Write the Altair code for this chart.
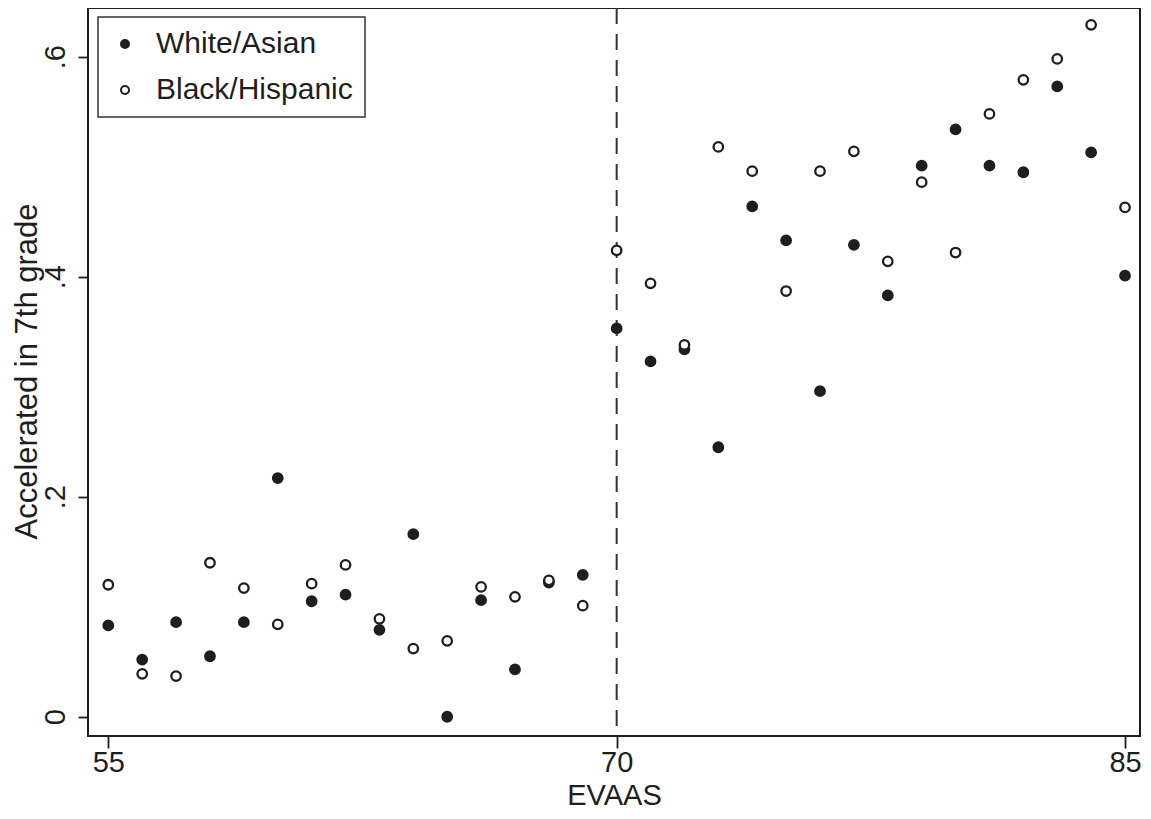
import altair as alt
import pandas as pd

evaas = list(range(55, 86))
white_asian = [0.083, 0.052, 0.086, 0.055, 0.086, 0.217, 0.105, 0.111, 0.079, 0.166,
               0.000, 0.106, 0.043, 0.122, 0.129, 0.353, 0.323, 0.334, 0.245, 0.464,
               0.433, 0.296, 0.429, 0.383, 0.501, 0.534, 0.501, 0.495, 0.573, 0.513,
               0.401]
black_hispanic = [0.120, 0.039, 0.037, 0.140, 0.117, 0.084, 0.121, 0.138, 0.089, 0.062,
                  0.069, 0.118, 0.109, 0.124, 0.101, 0.424, 0.394, 0.338, 0.518, 0.496,
                  0.387, 0.496, 0.514, 0.414, 0.486, 0.422, 0.548, 0.579, 0.598, 0.629,
                  0.463]
groups = ["White/Asian", "Black/Hispanic"]
cutoff = [70]
x_ticks = [55, 70, 85]
y_ticks = [0, 0.2, 0.4, 0.6]

rows = []
for g, vals in zip(groups, [white_asian, black_hispanic]):
    for x, y in zip(evaas, vals):
        rows.append({"EVAAS": x, "rate": y, "group": g})
df = pd.DataFrame(rows)
rule_df = pd.DataFrame({"x": cutoff})

W, H = 1052, 728
FONT = "Liberation Sans"
INK = "#1e1e1e"

xscale = alt.Scale(domain=[54.401, 85.442], nice=False, zero=False)
yscale = alt.Scale(domain=[-0.0175, 0.6443], nice=False, zero=False)

xaxis = alt.Axis(values=x_ticks, format="d", title="EVAAS", grid=False, domain=False,
                 tickSize=12, tickWidth=1.8, tickColor=INK,
                 labelFontSize=29, labelPadding=23, labelBaseline="alphabetic",
                 titleFontSize=29, titleY=68, titleBaseline="alphabetic")
yaxis = alt.Axis(values=y_ticks, title="Accelerated in 7th grade", grid=False, domain=False,
                 tickSize=10, tickWidth=1.8, tickColor=INK,
                 labelExpr="datum.value == 0 ? '0' : replace(format(datum.value, '.1f'), '0.', '.')",
                 labelFontSize=29, labelAngle=270, labelAlign="center",
                 labelBaseline="alphabetic", labelPadding=14,
                 titleFontSize=31, titleAngle=270, titleX=-52, titleY=363,
                 titleAlign="center", titleBaseline="alphabetic")

rule = alt.Chart(rule_df).mark_rule(color="#333333", strokeWidth=2, strokeDash=[16, 10]).encode(
    x=alt.X("x:Q", scale=xscale, axis=xaxis)
)

points = alt.Chart(df).mark_point(filled=True, stroke=INK, strokeWidth=2.3, size=90, opacity=1).encode(
    x=alt.X("EVAAS:Q", scale=xscale, axis=xaxis),
    y=alt.Y("rate:Q", scale=yscale, axis=yaxis),
    fill=alt.Fill("group:N", sort=groups,
                  scale=alt.Scale(domain=groups, range=[INK, "#ffffff"]),
                  legend=alt.Legend(title=None, orient="none", legendX=10, legendY=9,
                                    padding=12, fillColor="white", strokeColor="#333333",
                                    labelOffset=16, rowPadding=16, symbolSize=64,
                                    labelLimit=500,
                                    symbolType="circle", symbolStrokeColor=INK,
                                    symbolStrokeWidth=2)),
)

chart = alt.layer(rule, points).properties(
    width=W, height=H,
    autosize=alt.AutoSizeParams(type="none"),
    padding={"left": 80, "top": 0, "right": 3, "bottom": 75},
).configure_view(
    stroke=INK, strokeWidth=2, fill="white"
).configure_axis(
    labelFont=FONT, labelColor=INK,
    titleFont=FONT, titleColor=INK, titleFontWeight="normal",
).configure_legend(
    labelFont=FONT, labelFontSize=30, labelColor=INK, strokeWidth=1.5,
)

chart.save("out.html", embed_options={"renderer": "svg", "actions": False})
